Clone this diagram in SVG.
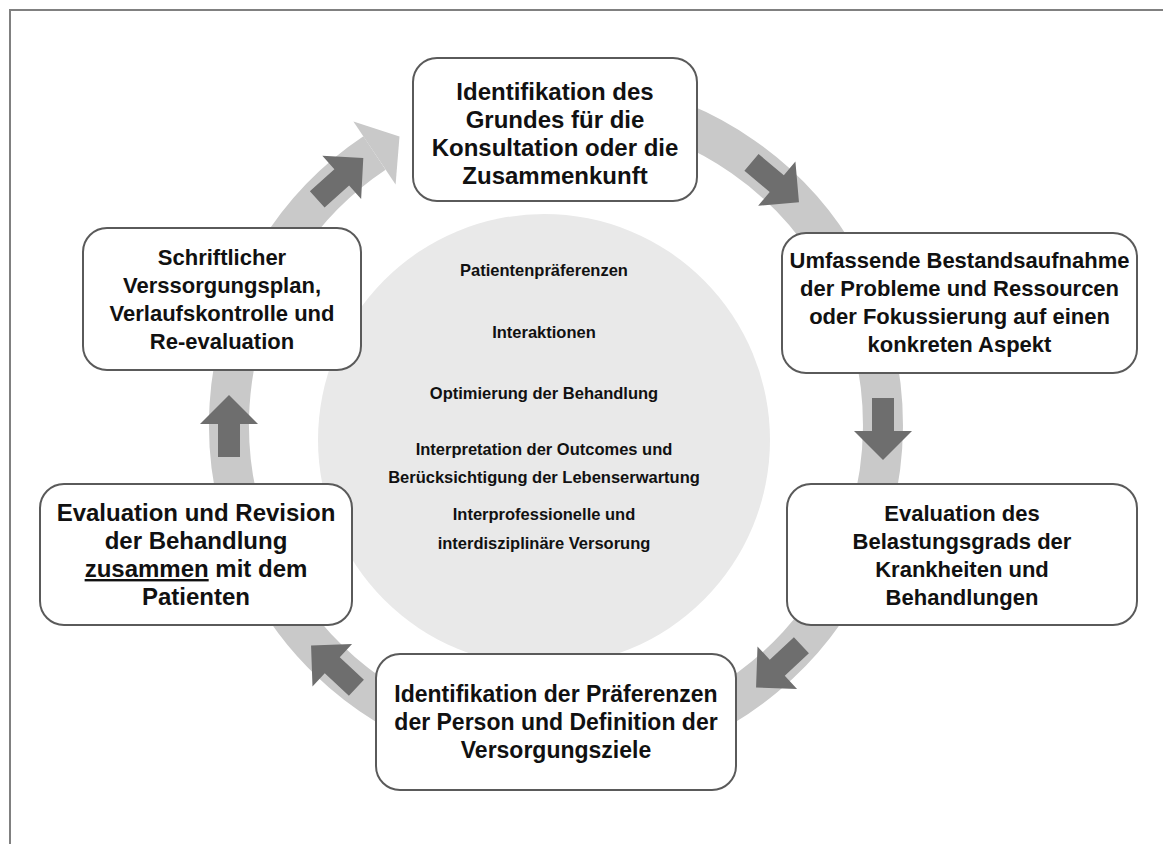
<svg xmlns="http://www.w3.org/2000/svg" width="1165" height="844" viewBox="0 0 1165 844">
  <style>
    .box { fill: #ffffff; stroke: #5a5a5a; stroke-width: 2; }
    .lbl { font-family: "Liberation Sans", Arial, sans-serif; font-weight: bold; font-size: 22px; fill: #111111; text-anchor: middle; }
    .big { font-size: 24px; }
    .mbig { font-size: 23px; }
    .mid { font-family: "Liberation Sans", Arial, sans-serif; font-weight: bold; font-size: 16.5px; fill: #111111; text-anchor: middle; }
    .ring { fill: none; stroke: #c9c9c9; stroke-width: 40; }
    .step { fill: #6e6e6e; }
  </style>
  <defs>
    <!-- block arrow pointing along +x, centred on the origin -->
    <path id="blk" d="M -32 -11 L 1 -11 L 1 -29 L 30 0 L 1 29 L 1 11 L -32 11 Z"/>
  </defs>

  <rect width="1165" height="844" fill="#ffffff"/>
  <!-- frame lines -->
  <path d="M 10 844 L 10 10 L 1163 10" fill="none" stroke="#808080" stroke-width="2"/>

  <!-- centre disc -->
  <circle cx="544" cy="440" r="226" fill="#e9e9e9"/>

  <g id="connectors">
    <!-- cycle ring, ending in an arrowhead at the top left -->
    <path class="ring" d="M 612.8 103 A 327 327 0 1 1 374.5 153"/>
    <polygon fill="#c9c9c9" points="353.4,121.4 399.5,136.4 395.6,184.6"/>
    <use href="#blk" class="step" transform="translate(776 183) rotate(40)"/>
    <use href="#blk" class="step" transform="translate(883 430) rotate(90)"/>
    <use href="#blk" class="step" transform="translate(778 667) rotate(137)"/>
    <use href="#blk" class="step" transform="translate(333 666) rotate(-137)"/>
    <use href="#blk" class="step" transform="translate(229 425) rotate(-90)"/>
    <use href="#blk" class="step" transform="translate(341 178) rotate(-42)"/>
  </g>

  <g id="centre-topics">
    <text class="mid" x="544" y="276">Patientenpräferenzen</text>
    <text class="mid" x="544" y="338">Interaktionen</text>
    <text class="mid" x="544" y="399">Optimierung der Behandlung</text>
    <text class="mid" x="544" y="455">Interpretation der Outcomes und</text>
    <text class="mid" x="544" y="483">Berücksichtigung der Lebenserwartung</text>
    <text class="mid" x="544" y="520">Interprofessionelle und</text>
    <text class="mid" x="544" y="549">interdisziplinäre Versorung</text>
  </g>

  <g id="node-grund">
    <rect class="box" x="413" y="58" width="284" height="143" rx="24"/>
    <text class="lbl big" x="555" y="100">Identifikation des</text>
    <text class="lbl big" x="555" y="128">Grundes für die</text>
    <text class="lbl big" x="555" y="156">Konsultation oder die</text>
    <text class="lbl big" x="555" y="184">Zusammenkunft</text>
  </g>

  <g id="node-bestand">
    <rect class="box" x="782" y="233" width="355" height="140" rx="24"/>
    <text class="lbl" x="959.5" y="268">Umfassende Bestandsaufnahme</text>
    <text class="lbl" x="959.5" y="296">der Probleme und Ressourcen</text>
    <text class="lbl" x="959.5" y="324">oder Fokussierung auf einen</text>
    <text class="lbl" x="959.5" y="352">konkreten Aspekt</text>
  </g>

  <g id="node-belastung">
    <rect class="box" x="787" y="484" width="350" height="141" rx="24"/>
    <text class="lbl" x="962" y="521">Evaluation des</text>
    <text class="lbl" x="962" y="549">Belastungsgrads der</text>
    <text class="lbl" x="962" y="577">Krankheiten und</text>
    <text class="lbl" x="962" y="605">Behandlungen</text>
  </g>

  <g id="node-praeferenzen">
    <rect class="box" x="376" y="654" width="360" height="136" rx="24"/>
    <text class="lbl mbig" x="556" y="702">Identifikation der Präferenzen</text>
    <text class="lbl mbig" x="556" y="730">der Person und Definition der</text>
    <text class="lbl mbig" x="556" y="758">Versorgungsziele</text>
  </g>

  <g id="node-revision">
    <rect class="box" x="40" y="484" width="312" height="141" rx="24"/>
    <text class="lbl big" x="196" y="521">Evaluation und Revision</text>
    <text class="lbl big" x="196" y="549">der Behandlung</text>
    <text class="lbl big" x="196" y="577"><tspan style="text-decoration:underline">zusammen</tspan> mit dem</text>
    <text class="lbl big" x="196" y="605">Patienten</text>
  </g>

  <g id="node-plan">
    <rect class="box" x="83" y="228" width="278" height="142" rx="24"/>
    <text class="lbl" x="222" y="265">Schriftlicher</text>
    <text class="lbl" x="222" y="293">Verssorgungsplan,</text>
    <text class="lbl" x="222" y="321">Verlaufskontrolle und</text>
    <text class="lbl" x="222" y="349">Re-evaluation</text>
  </g>
</svg>
